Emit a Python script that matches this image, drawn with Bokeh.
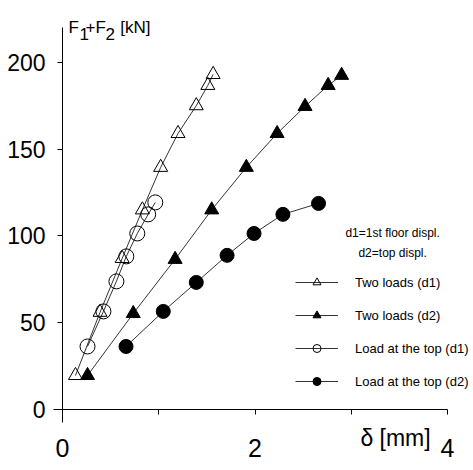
from bokeh.plotting import figure
from bokeh.models import Range1d, FixedTicker, Legend, LegendItem, Label
from bokeh.embed import file_html
from bokeh.resources import INLINE

# ---- data ----
two_d1_x = [0.135, 0.39, 0.62, 0.83, 1.02, 1.20, 1.39, 1.51, 1.565]
two_d1_y = [19.6, 56.0, 87.0, 115.0, 139.5, 159.0, 175.0, 186.7, 193.0]
two_d2_x = [0.26, 0.735, 1.17, 1.55, 1.91, 2.23, 2.52, 2.76, 2.90]
two_d2_y = [19.6, 55.3, 86.5, 115.0, 139.5, 159.0, 174.6, 186.7, 192.5]
top_d1_x = [0.26, 0.425, 0.56, 0.663, 0.777, 0.89, 0.964]
top_d1_y = [36.3, 56.5, 73.8, 88.2, 101.4, 112.4, 119.3]
top_d2_x = [0.66, 1.047, 1.39, 1.71, 1.99, 2.29, 2.66]
top_d2_y = [36.3, 56.5, 73.2, 88.8, 101.4, 112.4, 118.7]

series_names = ["Two loads (d1)", "Two loads (d2)", "Load at the top (d1)", "Load at the top (d2)"]
x_ticks = [0, 1, 2, 3, 4]
x_tick_labels = {1: "", 3: ""}
y_ticks = [0, 50, 100, 150, 200]
note_lines = ["d1=1st floor displ.", "d2=top displ."]

FONT = "Liberation Sans"

# frame covers the whole canvas; axes are drawn at x=0 / y=0
XPX = 96.25   # px per mm
YPX = 1.736   # px per kN
x0_px, y0_px = 62, 409
p = figure(width=473, height=470, output_backend="svg", toolbar_location=None,
           x_range=Range1d(-x0_px / XPX, (473 - x0_px) / XPX),
           y_range=Range1d((y0_px - 470) / YPX, y0_px / YPX),
           min_border=0)
p.grid.visible = False
p.outline_line_color = None

for ax in (p.xaxis[0], p.yaxis[0]):
    ax.fixed_location = 0
    ax.axis_line_color = "black"
    ax.axis_line_width = 1
    ax.major_tick_line_color = "black"
    ax.minor_tick_line_color = None
    ax.major_tick_in = 0
    ax.major_tick_out = 5
    ax.major_label_text_font = FONT
    ax.major_label_text_color = "black"

p.xaxis.ticker = FixedTicker(ticks=x_ticks)
p.xaxis.major_label_overrides = x_tick_labels
p.xaxis.major_label_standoff = 24
p.xaxis.major_label_text_font_size = "25px"
p.xaxis.bounds = (-0.09, 4)
p.yaxis.ticker = FixedTicker(ticks=y_ticks)
p.yaxis.major_label_standoff = 12
p.yaxis.major_label_text_font_size = "23px"
p.yaxis.bounds = (-7.5, 220)

lw = 0.8
r1l = p.line(two_d1_x, two_d1_y, line_color="black", line_width=lw)
r1m = p.scatter(two_d1_x, two_d1_y, marker="triangle", size=14, fill_alpha=0,
                line_color="black", line_width=1)
r2l = p.line(two_d2_x, two_d2_y, line_color="black", line_width=lw)
r2m = p.scatter(two_d2_x, two_d2_y, marker="triangle", size=14, fill_color="black",
                line_color="black", line_width=1)
r3l = p.line(top_d1_x, top_d1_y, line_color="black", line_width=lw)
r3m = p.scatter(top_d1_x, top_d1_y, marker="circle", size=15, fill_alpha=0,
                line_color="black", line_width=1)
r4l = p.line(top_d2_x, top_d2_y, line_color="black", line_width=lw)
r4m = p.scatter(top_d2_x, top_d2_y, marker="circle", size=14, fill_color="black",
                line_color="black", line_width=1)

legend = Legend(items=[
    LegendItem(label=series_names[0], renderers=[r1l, r1m]),
    LegendItem(label=series_names[1], renderers=[r2l, r2m]),
    LegendItem(label=series_names[2], renderers=[r3l, r3m]),
    LegendItem(label=series_names[3], renderers=[r4l, r4m]),
], location=(295, 79))
legend.glyph_width = 43
legend.glyph_height = 20
legend.label_height = 20
legend.spacing = 13
legend.label_standoff = 17
legend.padding = 0
legend.margin = 0
legend.border_line_color = None
legend.background_fill_alpha = 0
legend.label_text_font = FONT
legend.label_text_font_size = "13px"
legend.label_text_color = "black"
p.add_layout(legend)

# legend header notes
p.add_layout(Label(x=3.43, y=101.4, text=note_lines[0], text_align="center",
                   text_baseline="middle", text_font=FONT, text_font_size="12px",
                   text_color="black"))
p.add_layout(Label(x=3.43, y=90.4, text=note_lines[1], text_align="center",
                   text_baseline="middle", text_font=FONT, text_font_size="12px",
                   text_color="black"))

# y axis title F1+F2[kN] with subscripts
title_parts = [("F", 0.062, 220.2), ("1", 0.176, 216.4), ("+F", 0.239, 220.2),
               ("2", 0.447, 216.4), ("[kN]", 0.6, 220.2)]
for t, xx, yy in title_parts:
    p.add_layout(Label(x=xx, y=yy, text=t, text_align="left", text_baseline="alphabetic",
                       text_font=FONT, text_font_size="17px", text_color="black"))

# x axis title
p.add_layout(Label(x=3.46, y=-16.7, text="δ [mm]", text_align="center",
                   text_baseline="middle", text_font=FONT, text_font_size="23px",
                   text_color="black"))

open("out.html", "w").write(file_html(p, INLINE))
